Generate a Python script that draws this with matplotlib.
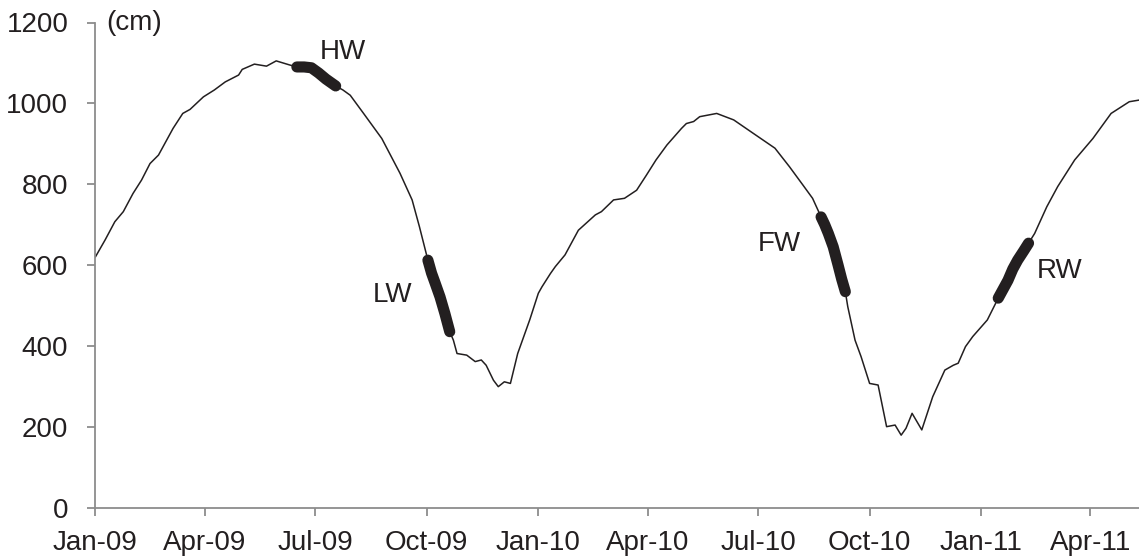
import matplotlib
matplotlib.use("Agg")
import matplotlib.pyplot as plt
import pandas as pd

plt.rcParams['font.family'] = ['Liberation Sans', 'DejaVu Sans']

# dias desde el 1 de enero de 2009 y nivel del agua (cm)
start = pd.Timestamp('2009-01-01')
days = [0, 8, 16, 23, 31, 38, 45, 52, 64, 72, 78, 89, 98, 107, 118, 121, 131, 141, 149, 160,
        166, 172, 178, 184, 190, 198, 204, 210, 221, 236, 251, 261, 267, 274, 277, 280, 284, 288,
        292, 295, 298, 306, 313, 318, 322, 328, 332, 337, 342, 348, 358, 365, 368, 375, 379, 387,
        398, 412, 417, 427, 436, 446, 454, 462, 471, 483, 487, 493, 498, 512, 526, 542, 560, 572,
        583, 591, 598, 601, 604, 608, 612, 615, 618, 620, 626, 631, 638, 645, 652, 659, 664, 668,
        673, 681, 690, 700, 707, 711, 717, 723, 735, 744, 748, 752, 756, 760, 765, 769, 774, 784,
        793, 807, 822, 837, 852, 860]
level = [620, 662, 707, 732, 777, 810, 851, 872, 938, 975, 985, 1016, 1033, 1053, 1070, 1084, 1097, 1092, 1105, 1095,
         1090, 1090, 1088, 1075, 1060, 1043, 1033, 1020, 975, 913, 827, 761, 695, 612, 580, 555, 521, 480,
         435, 414, 381, 377, 361, 365, 352, 315, 299, 311, 307, 381, 465, 530, 546, 579, 596, 625,
         686, 724, 732, 761, 765, 785, 822, 860, 897, 938, 950, 955, 967, 975, 959, 926, 889, 843,
         798, 765, 719, 700, 678, 645, 600, 565, 534, 497, 414, 373, 307, 303, 200, 204, 179, 196,
         233, 192, 274, 340, 352, 357, 398, 423, 464, 518, 540, 562, 590, 612, 635, 654, 678, 744,
         794, 860, 913, 975, 1004, 1008]

# periodos marcados (dia inicial, dia final)
periods = ['HW', 'LW', 'FW', 'RW']
period_days = [(166, 198), (274, 292), (598, 618), (744, 769)]
# posicion de las etiquetas (dia, cm)
label_pos = [(204, 1127), (245, 526), (564, 652), (795, 585)]

tick_dates = ['2009-01-01', '2009-04-01', '2009-07-01', '2009-10-01', '2010-01-01',
              '2010-04-01', '2010-07-01', '2010-10-01', '2011-01-01', '2011-04-01']
tick_labels = ['Jan-09', 'Apr-09', 'Jul-09', 'Oct-09', 'Jan-10',
               'Apr-10', 'Jul-10', 'Oct-10', 'Jan-11', 'Apr-11']

df = pd.DataFrame({'date': start + pd.to_timedelta(days, unit='D'), 'level': level, 'day': days})

fig = plt.figure(figsize=(11.39, 5.58), dpi=100)
ax = fig.add_axes([95.4 / 1139, 1 - 507.5 / 558, 1 - 95.4 / 1139, (507.5 - 22.5) / 558])

ink = '#231f20'
gray = '#8c8c8c'

ax.plot(df['date'], df['level'], color=ink, lw=1.1)

for name, (d0, d1), (lx, ly) in zip(periods, period_days, label_pos):
    seg = df[(df['day'] >= d0) & (df['day'] <= d1)]
    ax.plot(seg['date'], seg['level'], color=ink, lw=8, solid_capstyle='round')
    ax.text(start + pd.Timedelta(days=lx), ly, name, fontsize=20, color=ink,
            ha='center', va='center')

ax.text(start + pd.Timedelta(days=9), 1200, '(cm)', fontsize=20, color=ink,
        ha='left', va='center')

ax.set_xlim(start, start + pd.Timedelta(days=860))
ax.set_ylim(0, 1200)
ax.set_yticks(range(0, 1201, 200))
ax.set_xticks(pd.to_datetime(tick_dates))
ax.set_xticklabels(tick_labels)

for s in ['top', 'right']:
    ax.spines[s].set_visible(False)
for s in ['left', 'bottom']:
    ax.spines[s].set_color(gray)
    ax.spines[s].set_linewidth(1.3)

ax.tick_params(axis='both', colors=gray, labelcolor=ink, labelsize=20,
               direction='out', length=5.5, width=1.3)
ax.tick_params(axis='y', pad=14)
ax.tick_params(axis='x', pad=11)

plt.savefig('out.png', dpi=100)
